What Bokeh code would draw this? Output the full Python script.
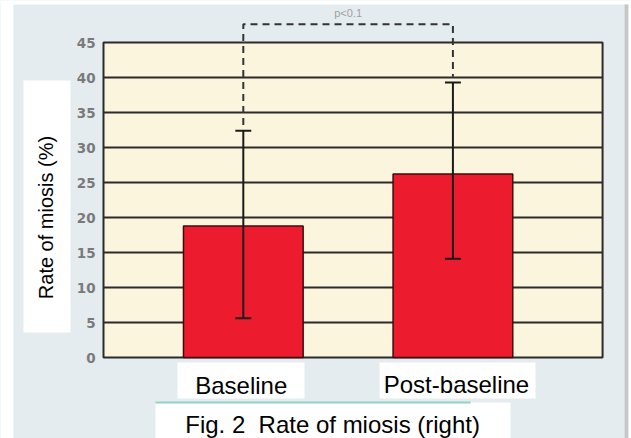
import math
from bokeh.plotting import figure
from bokeh.models import Range1d
from bokeh.core.properties import value
from bokeh.embed import file_html
from bokeh.resources import INLINE

# ---- data ----
categories = ["Baseline", "Post-baseline"]
rates = [18.8, 26.2]
err_upper = [32.4, 39.3]
err_lower = [5.6, 14.1]
y_ticks = [0, 5, 10, 15, 20, 25, 30, 35, 40, 45]
sig_text = "p<0.1"
y_title = "Rate of miosis (%)"
caption = "Fig. 2\u00a0\u00a0Rate of miosis (right)"

# ---- styles ----
BG = "#e5ecef"
CREAM = "#fcf5dd"
RED = "#ec1b2e"
DARK = "#2b2b2b"
FONT = value("Liberation Sans")

# ---- layout (data units; 1 x unit = 209.6 px, 1 y unit = 7 px) ----
xs = [i + 1 for i in range(len(categories))]
bar_w = 0.571
cap_half = 0.038
area_left, area_right = 0.333, 2.714
y_top = y_ticks[-1]
bracket_y = 47.6
X0, X1 = -0.1584, 2.852
Y0, Y1 = -11.571, 51.0

p = figure(width=631, height=438, output_backend="svg", toolbar_location=None,
           x_range=Range1d(X0, X1), y_range=Range1d(Y0, Y1),
           min_border=0, background_fill_color=BG, border_fill_color=BG,
           outline_line_color=None)
p.axis.visible = False
p.grid.visible = False

# page decoration
p.quad(left=[X0], right=[-0.0964], bottom=[Y0], top=[Y1], fill_color="white", line_color=None)
p.quad(left=[X0], right=[X1], bottom=[50.43], top=[Y1], fill_color="white", line_color=None)
p.quad(left=[2.819], right=[2.838], bottom=[Y0], top=[50.43], fill_color="#c4c6c8", line_color=None)
p.quad(left=[2.838], right=[X1], bottom=[Y0], top=[Y1], fill_color="white", line_color=None)

# plot area
p.quad(left=[area_left], right=[area_right], bottom=[0], top=[y_top],
       fill_color=CREAM, line_color=None)
inner = y_ticks[1:-1]
p.segment(x0=[area_left] * len(inner), x1=[area_right] * len(inner), y0=inner, y1=inner,
          line_color=DARK, line_width=2)
p.quad(left=[area_left], right=[area_right], bottom=[0], top=[y_top],
       fill_color=None, line_color=DARK, line_width=2)

# y tick labels
p.text(x=[0.295] * len(y_ticks), y=y_ticks, text=[str(t) for t in y_ticks],
       text_align="right", text_baseline="middle", text_font=value("DejaVu Sans"),
       text_font_size="13.5px", text_font_style="bold", text_color="#7a7a7a")

# bars
p.vbar(x=xs, top=rates, width=bar_w, bottom=0, fill_color=RED,
       line_color="#3e0c10", line_width=1.5)

# error bars
p.segment(x0=xs, x1=xs, y0=err_lower, y1=err_upper, line_color="#1a1a1a", line_width=2)
p.segment(x0=[x - cap_half for x in xs], x1=[x + cap_half for x in xs],
          y0=err_upper, y1=err_upper, line_color="#1a1a1a", line_width=2)
p.segment(x0=[x - cap_half for x in xs], x1=[x + cap_half for x in xs],
          y0=err_lower, y1=err_lower, line_color="#1a1a1a", line_width=2)

# significance bracket
p.multi_line(xs=[[xs[0], xs[0], xs[1], xs[1]]],
             ys=[[err_upper[0] + 0.8, bracket_y, bracket_y, err_upper[1] + 0.8]],
             line_color="#333333", line_width=2, line_dash="7 5")
p.text(x=[(xs[0] + xs[1]) / 2], y=[49.2], text=[sig_text], text_align="center",
       text_baseline="middle", text_font=FONT, text_font_size="11px", text_color="#a0a0a0")

# category labels in white boxes
p.quad(left=[0.686, 1.650], right=[1.292, 2.394], bottom=[-5.857, -5.857], top=[-0.714, -0.714],
       fill_color="white", line_color=None)
p.text(x=[xs[0] - 0.01, xs[1] + 0.017], y=[-4.0, -3.9], text=categories, text_align="center",
       text_baseline="middle", text_font=FONT, text_font_size="24px", text_color="black")

# y title in white box
p.quad(left=[-0.0487], right=[0.1756], bottom=[3.57], top=[39.57],
       fill_color="white", line_color=None)
p.text(x=[0.0563], y=[20.0], text=[y_title], angle=math.pi / 2, text_align="center",
       text_baseline="middle", text_font=FONT, text_font_size="20px", text_color="black")

# caption in white box with teal rule
p.quad(left=[0.581], right=[2.275], bottom=[Y0], top=[-6.43], fill_color="white", line_color=None)
p.segment(x0=[0.581], x1=[2.084], y0=[-6.43], y1=[-6.43], line_color="#8fd3c4", line_width=2)
p.text(x=[1.426], y=[-9.64], text=[caption], text_align="center",
       text_baseline="middle", text_font=FONT, text_font_size="24px", text_color="black")

open("out.html", "w").write(file_html(p, INLINE))
